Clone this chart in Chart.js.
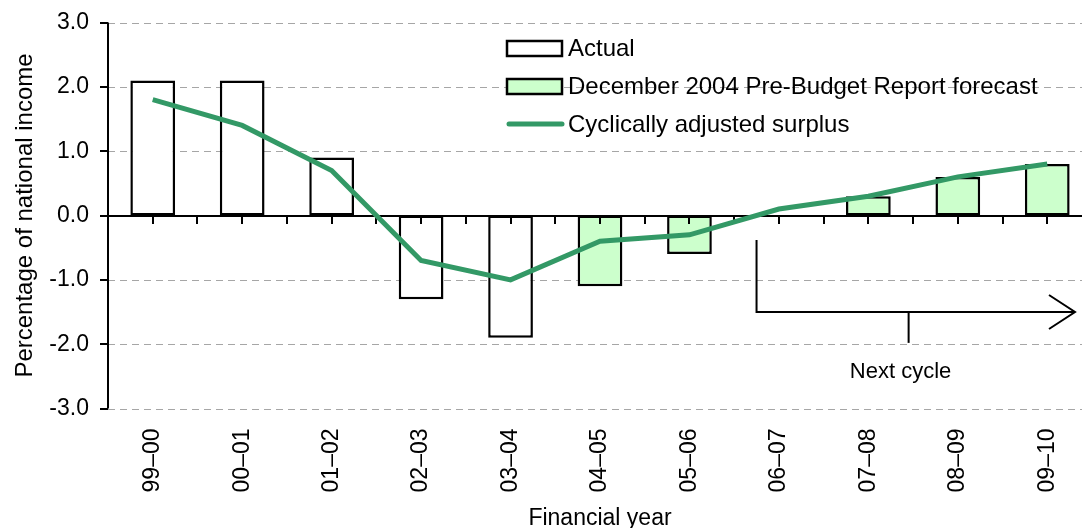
<!DOCTYPE html>
<html><head><meta charset="utf-8">
<script src="https://cdn.jsdelivr.net/npm/chart.js@4.4.1/dist/chart.umd.min.js"></script>
<style>
html,body{margin:0;padding:0;background:#fff;overflow:hidden;width:1082px;height:528px}
#wrap{position:absolute;left:0;top:0;width:1092px;height:528px}
canvas{display:block}
</style></head><body>
<div id="wrap"><canvas id="c" width="1092" height="528"></canvas></div>
<script>
// ---- data ----
const categories = ['99–00','00–01','01–02','02–03','03–04','04–05','05–06','06–07','07–08','08–09','09–10'];
const actual = [2.1, 2.1, 0.9, -1.3, -1.9, null, null, null, null, null, null];
const forecast = [null, null, null, null, null, -1.1, -0.6, 0.0, 0.3, 0.6, 0.8];
const cyclicallyAdjusted = [1.8, 1.4, 0.7, -0.7, -1.0, -0.4, -0.3, 0.1, 0.3, 0.6, 0.8];
const yTicks = [-3, -2, -1, 0, 1, 2, 3];
const seriesNames = ['Actual', 'December 2004 Pre-Budget Report forecast', 'Cyclically adjusted surplus'];
const xTitle = 'Financial year';
const yTitle = 'Percentage of national income';
const annotationText = 'Next cycle';

// ---- styles / layout ----
const GREEN = '#339966';
const LIGHT_GREEN = '#ccffcc';
const FONT = '"Liberation Sans", Arial, sans-serif';
// annotation geometry in data units (category index, value)
const arrowGeom = { startX: 6.75, topY: -0.38, lineY: -1.5, endX: 10.31, tickX: 8.45, tickBottomY: -1.98, textX: 8.36, textY: -2.53 };

const axesPlugin = {
  id: 'customAxes',
  beforeDatasetsDraw(chart) {
    const { ctx, chartArea: a, scales: { y } } = chart;
    ctx.save();
    ctx.strokeStyle = '#a6a6a6';
    ctx.lineWidth = 1;
    ctx.setLineDash([7, 5]);
    yTicks.forEach(v => {
      if (v === 0) return;
      const py = Math.round(y.getPixelForValue(v)) + 0.5;
      ctx.beginPath(); ctx.moveTo(a.left, py); ctx.lineTo(a.right, py); ctx.stroke();
    });
    ctx.restore();
  },
  beforeDatasetDraw(chart, args) {
    if (args.index !== 2) return;
    const { ctx, chartArea: a, scales: { x, y } } = chart;
    ctx.save();
    ctx.strokeStyle = '#000';
    ctx.lineWidth = 2;
    ctx.setLineDash([]);
    // y axis
    const ax = Math.round(a.left);
    ctx.beginPath(); ctx.moveTo(ax, a.top); ctx.lineTo(ax, a.bottom); ctx.stroke();
    yTicks.forEach(v => {
      const py = Math.round(y.getPixelForValue(v));
      ctx.beginPath(); ctx.moveTo(ax - 8, py); ctx.lineTo(ax, py); ctx.stroke();
    });
    // zero line
    const y0 = Math.round(y.getPixelForValue(0));
    ctx.beginPath(); ctx.moveTo(ax, y0); ctx.lineTo(a.right, y0); ctx.stroke();
    // x tick marks at centres and boundaries
    for (let i = 0; i < categories.length; i++) {
      [i, i + 0.5].forEach(v => {
        const px = Math.round(x.getPixelForValue(v));
        ctx.beginPath(); ctx.moveTo(px, y0); ctx.lineTo(px, y0 + 8); ctx.stroke();
      });
    }
    ctx.restore();
  },
  afterDraw(chart) {
    const { ctx, chartArea: a, scales: { x, y } } = chart;
    const ds = chart.data.datasets;
    ctx.save();
    // legend
    const lx = 507, rows = [48.5, 86.5, 124];
    ctx.font = '24px ' + FONT;
    ctx.fillStyle = '#000';
    ctx.textAlign = 'left';
    ctx.textBaseline = 'alphabetic';
    [0, 1].forEach(k => {
      ctx.fillStyle = ds[k].backgroundColor;
      ctx.fillRect(lx, rows[k] - 7.5, 55, 15);
      ctx.strokeStyle = '#000'; ctx.lineWidth = 2.5;
      ctx.strokeRect(lx, rows[k] - 7.5, 55, 15);
    });
    ctx.strokeStyle = ds[2].borderColor; ctx.lineWidth = 5; ctx.lineCap = 'round';
    ctx.beginPath(); ctx.moveTo(lx + 2, rows[2]); ctx.lineTo(lx + 55, rows[2]); ctx.stroke();
    ctx.lineCap = 'butt';
    ctx.fillStyle = '#000';
    ds.forEach((d, k) => ctx.fillText(d.label, 568, rows[k] + 7.8));

    // annotation arrow
    ctx.strokeStyle = '#000'; ctx.lineWidth = 2;
    const sx = x.getPixelForValue(arrowGeom.startX);
    const ty = y.getPixelForValue(arrowGeom.topY);
    const ly = y.getPixelForValue(arrowGeom.lineY);
    const ex = x.getPixelForValue(arrowGeom.endX);
    ctx.beginPath(); ctx.moveTo(sx, ty); ctx.lineTo(sx, ly); ctx.lineTo(ex, ly); ctx.stroke();
    ctx.beginPath(); ctx.moveTo(ex - 26, ly - 17); ctx.lineTo(ex, ly); ctx.lineTo(ex - 26, ly + 17); ctx.stroke();
    const tx = x.getPixelForValue(arrowGeom.tickX);
    ctx.beginPath(); ctx.moveTo(tx, ly); ctx.lineTo(tx, y.getPixelForValue(arrowGeom.tickBottomY)); ctx.stroke();
    ctx.font = '22px ' + FONT;
    ctx.textAlign = 'center';
    ctx.fillText(annotationText, x.getPixelForValue(arrowGeom.textX), y.getPixelForValue(arrowGeom.textY));

    // axis titles
    ctx.font = '23px ' + FONT;
    ctx.fillText(xTitle, (a.left + a.right) / 2, 525);
    ctx.save();
    ctx.font = '24px ' + FONT;
    ctx.translate(32, (a.top + a.bottom) / 2);
    ctx.rotate(-Math.PI / 2);
    ctx.fillText(yTitle, 0, 0);
    ctx.restore();
    ctx.restore();
  }
};

new Chart(document.getElementById('c'), {
  type: 'bar',
  data: {
    labels: categories,
    datasets: [
      { label: seriesNames[0], data: actual, backgroundColor: '#ffffff', borderColor: '#000', borderWidth: 2.5, borderSkipped: false, order: 2 },
      { label: seriesNames[1], data: forecast, backgroundColor: LIGHT_GREEN, borderColor: '#000', borderWidth: 2.5, borderSkipped: false, order: 1 },
      { type: 'line', label: seriesNames[2], data: cyclicallyAdjusted, borderColor: GREEN, backgroundColor: GREEN, borderWidth: 5, pointRadius: 0, tension: 0, fill: false, order: 0 }
    ]
  },
  options: {
    responsive: false,
    animation: false,
    devicePixelRatio: 1,
    layout: { padding: { top: 22.5, left: 0, right: 0, bottom: 0 } },
    datasets: { bar: { grouped: false, barPercentage: 0.5, categoryPercentage: 1 } },
    plugins: { legend: { display: false }, tooltip: { enabled: false } },
    scales: {
      x: {
        grid: { display: false, drawTicks: false },
        border: { display: false },
        ticks: { color: '#000', font: { family: FONT, size: 23 }, minRotation: 90, maxRotation: 90, padding: 20, autoSkip: false },
        afterFit(s) { s.height = 119.5; s.paddingLeft = 0; s.paddingRight = 0; }
      },
      y: {
        min: -3, max: 3,
        grid: { display: false, drawTicks: false },
        border: { display: false },
        ticks: { stepSize: 1, color: '#000', font: { family: FONT, size: 23 }, padding: 19, callback: v => v.toFixed(1) },
        afterFit(s) { s.width = 108; s.paddingTop = 0; s.paddingBottom = 0; }
      }
    }
  },
  plugins: [axesPlugin]
});
</script>
</body></html>
